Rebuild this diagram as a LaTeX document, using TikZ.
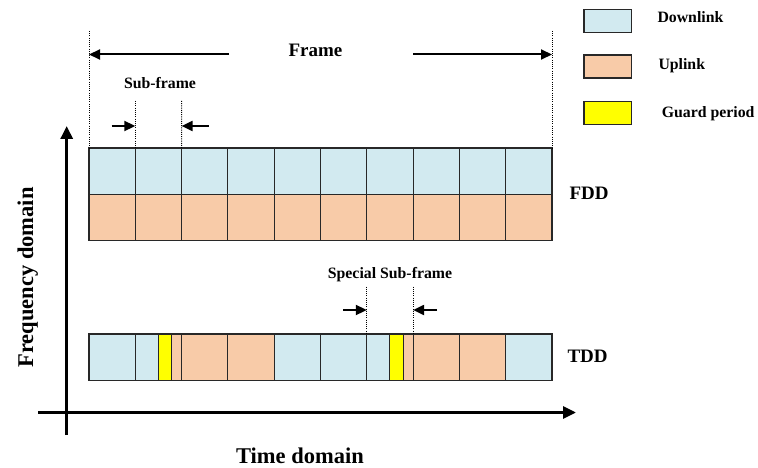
\documentclass[tikz,border=0pt]{standalone}
\usepackage{fontspec}
\setmainfont{Liberation Serif}
\usetikzlibrary{arrows.meta}
\definecolor{dlc}{RGB}{210,234,240}
\definecolor{ulc}{RGB}{248,203,168}
\definecolor{gpc}{RGB}{255,255,0}
\definecolor{edgec}{RGB}{40,40,40}
\begin{document}
\begin{tikzpicture}[x=1pt,y=-1pt,
  cell/.style={draw=edgec, line width=1.1pt, inner sep=0pt, outer sep=0pt, anchor=north west, minimum height=46.4pt},
  dl/.style={cell, fill=dlc},
  ul/.style={cell, fill=ulc},
  gp/.style={cell, fill=gpc},
  sf/.style={minimum width=46.3pt},
  lbl/.style={font=\fontsize{15.8}{18}\selectfont\bfseries, inner sep=0pt},
  biglbl/.style={font=\fontsize{19}{22}\selectfont\bfseries, inner sep=0pt},
  axlbl/.style={font=\fontsize{22.5}{26}\selectfont\bfseries, inner sep=0pt},
  dotline/.style={line width=0.9pt, dash pattern=on 1pt off 1.2pt},
  marrow/.style={line width=2pt, -{Triangle[length=11pt,width=10pt]}},
  axarrow/.style={line width=3pt, -{Triangle[length=13pt,width=12pt]}}]
\useasboundingbox (0,0) rectangle (758,468);

% axes
\coordinate (ybot) at (66.7,435);
\coordinate (ytop) at (66.7,126);
\coordinate (xl) at (38,412.5);
\coordinate (xr) at (576,412.5);
\draw[axarrow] (ybot) -- (ytop);
\draw[axarrow] (xl) -- (xr);
\node[axlbl, rotate=90, anchor=base] (fdom) at (33,277.5) {Frequency domain};
\node[axlbl, anchor=base] (tdom) at (300,463) {Time domain};

% FDD rows
\foreach \i in {0,...,9} {
  \node[dl, sf] (fd\i) at ({89+46.3*\i},148) {};
  \node[ul, sf] (fu\i) at ({89+46.3*\i},194.4) {};
}
\node[biglbl, anchor=base west] (fdd) at (569.3,199.3) {FDD};

% TDD row
\node[dl, sf] (t0) at (89,334) {};
\node[dl, minimum width=23pt] (t1a) at (135.3,334) {};
\node[gp, minimum width=13.4pt] (t1b) at (158.3,334) {};
\node[ul, minimum width=9.9pt] (t1c) at (171.7,334) {};
\node[ul, sf] (t2) at (181.6,334) {};
\node[ul, sf] (t3) at (227.9,334) {};
\node[dl, sf] (t4) at (274.2,334) {};
\node[dl, sf] (t5) at (320.5,334) {};
\node[dl, minimum width=23pt] (t6a) at (366.8,334) {};
\node[gp, minimum width=13.4pt] (t6b) at (389.8,334) {};
\node[ul, minimum width=9.9pt] (t6c) at (403.2,334) {};
\node[ul, sf] (t7) at (413.1,334) {};
\node[ul, sf] (t8) at (459.4,334) {};
\node[dl, sf] (t9) at (505.7,334) {};
\node[biglbl, anchor=base west] (tdd) at (567.3,362.3) {TDD};

% Frame
\coordinate (frl) at (89,31);
\coordinate (frr) at (552,31);
\draw[dotline] (frl) -- (fd0.north west);
\draw[dotline] (frr) -- (fd9.north east);
\coordinate (fal) at (89,54.5);
\coordinate (fals) at (229,54.5);
\coordinate (far) at (552,54.5);
\coordinate (fars) at (413,54.5);
\draw[marrow] (fals) -- (fal);
\draw[marrow] (fars) -- (far);
\node[biglbl, anchor=base] (frame) at (315.5,57) {Frame};

% Sub-frame
\coordinate (sfl) at (135.3,101);
\coordinate (sfr) at (181.6,101);
\draw[dotline] (sfl) -- (fd1.north west);
\draw[dotline] (sfr) -- (fd1.north east);
\coordinate (sal) at (135.3,126);
\coordinate (sals) at (111.5,126);
\coordinate (sar) at (181.6,126);
\coordinate (sars) at (208.5,126);
\draw[marrow] (sals) -- (sal);
\draw[marrow] (sars) -- (sar);
\node[lbl, anchor=base] (subf) at (160,88.3) {Sub-frame};

% Special Sub-frame
\coordinate (ssl) at (366.8,286.5);
\coordinate (ssr) at (413.1,286.5);
\draw[dotline] (ssl) -- (t6a.north west);
\draw[dotline] (ssr) -- (t7.north west);
\coordinate (ssal) at (366.8,310);
\coordinate (ssals) at (343,310);
\coordinate (ssar) at (413.1,310);
\coordinate (ssars) at (437,310);
\draw[marrow] (ssals) -- (ssal);
\draw[marrow] (ssars) -- (ssar);
\node[lbl, anchor=base] (ssf) at (390,278.3) {Special Sub-frame};

% Legend
\node[dl, minimum width=47.7pt, minimum height=23pt] (lgd) at (584,9.3) {};
\node[ul, minimum width=47.7pt, minimum height=23pt] (lgu) at (584,55) {};
\node[gp, minimum width=47.7pt, minimum height=23pt] (lgg) at (584,101.7) {};
\node[lbl, anchor=base west] (lgdt) at (657.3,22.7) {Downlink};
\node[lbl, anchor=base west] (lgut) at (658.3,69.3) {Uplink};
\node[lbl, anchor=base west] (lggt) at (661.7,117.3) {Guard period};
\end{tikzpicture}
\end{document}
